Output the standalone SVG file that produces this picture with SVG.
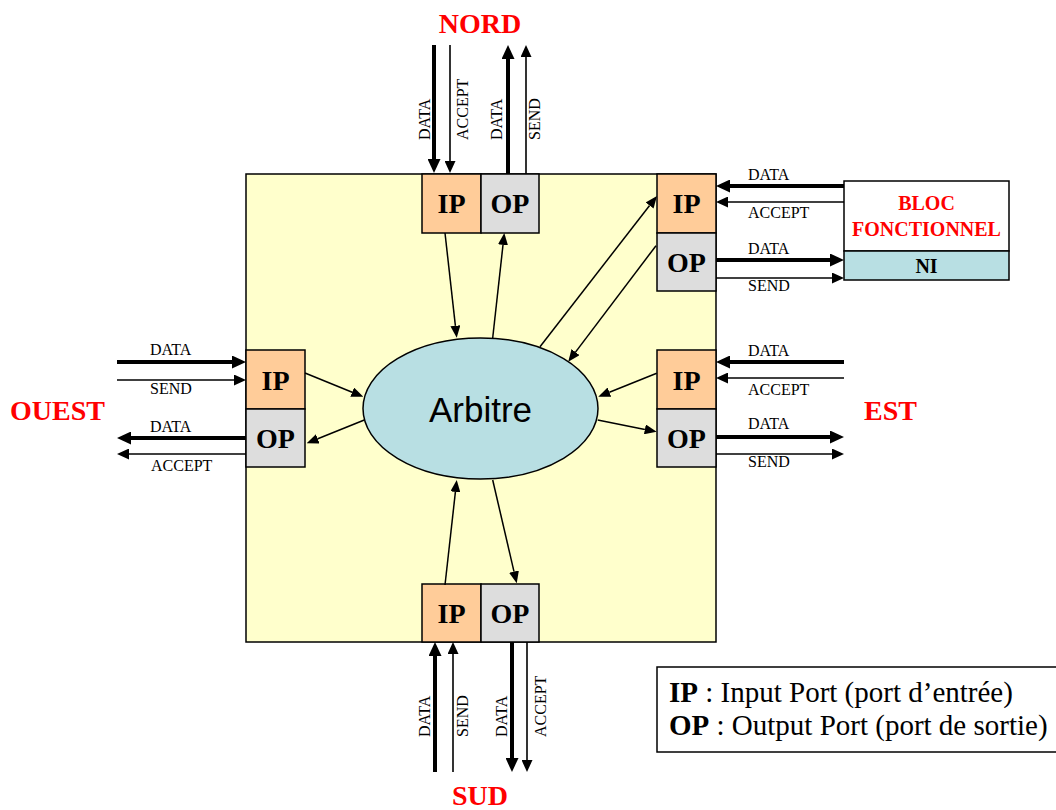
<svg xmlns="http://www.w3.org/2000/svg" width="1056" height="810" viewBox="0 0 1056 810">
<style>
.serif{font-family:"Liberation Serif","Times New Roman",serif;}
.lbl{font-family:"Liberation Serif","Times New Roman",serif;font-size:16px;fill:#000;}
.port{font-family:"Liberation Serif","Times New Roman",serif;font-size:28px;font-weight:bold;fill:#000;text-anchor:middle;}
.dir{font-family:"Liberation Serif","Times New Roman",serif;font-size:28px;font-weight:bold;fill:#FF0000;}
.ip{fill:#FFCC99;stroke:#000;stroke-width:1.5;}
.op{fill:#DDDDDD;stroke:#000;stroke-width:1.5;}
.thick{stroke:#000;stroke-width:4;fill:none;}
.thin{stroke:#000;stroke-width:1.6;fill:none;}
.inner{stroke:#000;stroke-width:1.5;fill:none;marker-end:url(#ah);}
</style>
<defs>
<marker id="ah" markerUnits="userSpaceOnUse" viewBox="0 -5 12 10" markerWidth="12" markerHeight="10" refX="0" refY="0" orient="auto"><path d="M0,-5 L12,0 L0,5 z" fill="#000"/></marker>
<marker id="ahThin" markerUnits="userSpaceOnUse" viewBox="0 -5.5 12 11" markerWidth="12" markerHeight="11" refX="0" refY="0" orient="auto"><path d="M0,-5.5 L12,0 L0,5.5 z" fill="#000"/></marker>
<marker id="ahThick" markerUnits="userSpaceOnUse" viewBox="0 -6.5 14 13" markerWidth="14" markerHeight="13" refX="0" refY="0" orient="auto"><path d="M0,-6.5 L14,0 L0,6.5 z" fill="#000"/></marker>
</defs>
<rect width="1056" height="810" fill="#FFFFFF"/>

<g id="router">
<rect x="246" y="174" width="470" height="468" fill="#FFFFCC" stroke="#000" stroke-width="1.5"/>
</g>

<g id="arbitre">
<ellipse cx="480.5" cy="408.5" rx="117.5" ry="70.5" fill="#B8DFE3" stroke="#000" stroke-width="1.5"/>
<text x="480.5" y="422" font-family="Liberation Sans, Arial, sans-serif" font-size="35" text-anchor="middle" fill="#000">Arbitre</text>
</g>

<g id="nord-ports">
<rect class="ip" x="422" y="174" width="59" height="59"/>
<rect class="op" x="481" y="174" width="58" height="59"/>
<text class="port" x="451.5" y="213">IP</text>
<text class="port" x="510" y="213">OP</text>
</g>
<g id="sud-ports">
<rect class="ip" x="422" y="584" width="59" height="58"/>
<rect class="op" x="481" y="584" width="58" height="58"/>
<text class="port" x="451.5" y="623">IP</text>
<text class="port" x="510" y="623">OP</text>
</g>
<g id="ouest-ports">
<rect class="ip" x="246" y="350" width="59" height="59"/>
<rect class="op" x="246" y="409" width="59" height="58"/>
<text class="port" x="275.5" y="389.5">IP</text>
<text class="port" x="275.5" y="447.5">OP</text>
</g>
<g id="est-ports">
<rect class="ip" x="657" y="350" width="59" height="59"/>
<rect class="op" x="657" y="409" width="59" height="58"/>
<text class="port" x="686.5" y="389.5">IP</text>
<text class="port" x="686.5" y="447.5">OP</text>
</g>
<g id="local-ports">
<rect class="ip" x="657" y="174" width="59" height="59"/>
<rect class="op" x="657" y="233" width="59" height="58"/>
<text class="port" x="686.5" y="213">IP</text>
<text class="port" x="686.5" y="271.5">OP</text>
</g>

<g id="bloc-fonctionnel">
<rect x="844" y="181" width="165" height="70" fill="#FFFFFF" stroke="#000" stroke-width="1.5"/>
<rect x="844" y="251" width="165" height="29" fill="#B8DFE3" stroke="#000" stroke-width="1.5"/>
<text class="serif" x="926.5" y="210" font-size="20" font-weight="bold" fill="#FF0000" text-anchor="middle">BLOC</text>
<text class="serif" x="926.5" y="236" font-size="20" font-weight="bold" fill="#FF0000" text-anchor="middle">FONCTIONNEL</text>
<text class="serif" x="926.5" y="272.5" font-size="20" font-weight="bold" fill="#000" text-anchor="middle">NI</text>
</g>

<g id="directions">
<text class="dir" x="480" y="33" text-anchor="middle">NORD</text>
<text class="dir" x="480" y="805" text-anchor="middle">SUD</text>
<text class="dir" x="10" y="420">OUEST</text>
<text class="dir" x="864" y="420">EST</text>
</g>

<g id="connectors">
<line class="inner" x1="445" y1="233" x2="455.4" y2="325.8"/>
<line class="inner" x1="492.7" y1="338" x2="503" y2="244.9"/>
<line class="inner" x1="540" y1="346.7" x2="649.6" y2="205.5"/>
<line class="inner" x1="656" y1="245.7" x2="575.5" y2="352.1"/>
<line class="inner" x1="305" y1="373" x2="352.2" y2="392.2"/>
<line class="inner" x1="364.3" y1="420" x2="317.8" y2="438.8"/>
<line class="inner" x1="656.7" y1="373.3" x2="609.4" y2="392.2"/>
<line class="inner" x1="597.7" y1="420" x2="644.9" y2="429.4"/>
<line class="inner" x1="445" y1="585" x2="455.4" y2="491.9"/>
<line class="inner" x1="492.7" y1="480" x2="514" y2="571.6"/>
<line class="thick" x1="434" y1="45" x2="434" y2="159" marker-end="url(#ahThick)"/>
<line class="thin" x1="450" y1="45" x2="450" y2="161" marker-end="url(#ahThin)"/>
<line class="thick" x1="508" y1="174" x2="508" y2="59" marker-end="url(#ahThick)"/>
<line class="thin" x1="526" y1="174" x2="526" y2="57" marker-end="url(#ahThin)"/>
<line class="thick" x1="844" y1="186" x2="730" y2="186" marker-end="url(#ahThick)"/>
<line class="thin" x1="844" y1="202" x2="728" y2="202" marker-end="url(#ahThin)"/>
<line class="thick" x1="716" y1="260" x2="830" y2="260" marker-end="url(#ahThick)"/>
<line class="thin" x1="716" y1="278" x2="832" y2="278" marker-end="url(#ahThin)"/>
<line class="thick" x1="117" y1="362" x2="232" y2="362" marker-end="url(#ahThick)"/>
<line class="thin" x1="117" y1="380" x2="234" y2="380" marker-end="url(#ahThin)"/>
<line class="thick" x1="246" y1="438" x2="131" y2="438" marker-end="url(#ahThick)"/>
<line class="thin" x1="246" y1="454" x2="129" y2="454" marker-end="url(#ahThin)"/>
<line class="thick" x1="844" y1="362" x2="730" y2="362" marker-end="url(#ahThick)"/>
<line class="thin" x1="844" y1="378" x2="728" y2="378" marker-end="url(#ahThin)"/>
<line class="thick" x1="716" y1="437" x2="830" y2="437" marker-end="url(#ahThick)"/>
<line class="thin" x1="716" y1="454" x2="832" y2="454" marker-end="url(#ahThin)"/>
<line class="thick" x1="435" y1="772" x2="435" y2="656" marker-end="url(#ahThick)"/>
<line class="thin" x1="453" y1="772" x2="453" y2="654" marker-end="url(#ahThin)"/>
<line class="thick" x1="512" y1="642" x2="512" y2="758" marker-end="url(#ahThick)"/>
<line class="thin" x1="527" y1="642" x2="527" y2="760" marker-end="url(#ahThin)"/>
</g>

<g id="labels">
<text class="lbl" transform="translate(430,140) rotate(-90)">DATA</text>
<text class="lbl" transform="translate(468,140) rotate(-90)">ACCEPT</text>
<text class="lbl" transform="translate(502,140) rotate(-90)">DATA</text>
<text class="lbl" transform="translate(540,140) rotate(-90)">SEND</text>
<text class="lbl" transform="translate(430,737) rotate(-90)">DATA</text>
<text class="lbl" transform="translate(468,737) rotate(-90)">SEND</text>
<text class="lbl" transform="translate(507,737) rotate(-90)">DATA</text>
<text class="lbl" transform="translate(546,737) rotate(-90)">ACCEPT</text>
<text class="lbl" x="748" y="180">DATA</text>
<text class="lbl" x="748" y="218">ACCEPT</text>
<text class="lbl" x="748" y="254">DATA</text>
<text class="lbl" x="748" y="291">SEND</text>
<text class="lbl" x="150" y="355">DATA</text>
<text class="lbl" x="150" y="394">SEND</text>
<text class="lbl" x="150" y="432">DATA</text>
<text class="lbl" x="151" y="471">ACCEPT</text>
<text class="lbl" x="748" y="356">DATA</text>
<text class="lbl" x="748" y="395">ACCEPT</text>
<text class="lbl" x="748" y="429">DATA</text>
<text class="lbl" x="748" y="467">SEND</text>
</g>

<g id="legend">
<rect x="657" y="667" width="410" height="85" fill="#FFFFFF" stroke="#000" stroke-width="1.5"/>
<text class="serif" x="669" y="702" font-size="29" fill="#000"><tspan font-weight="bold">IP</tspan> : Input Port (port d’entrée)</text>
<text class="serif" x="669" y="735" font-size="29" fill="#000"><tspan font-weight="bold">OP</tspan> : Output Port (port de sortie)</text>
</g>
</svg>
